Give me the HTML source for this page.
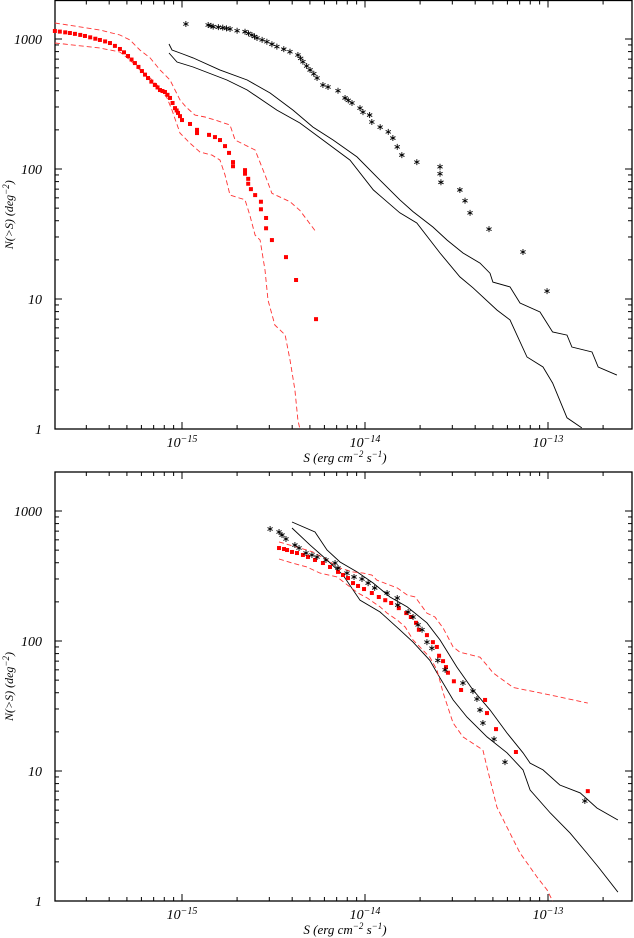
<!DOCTYPE html>
<html><head><meta charset="utf-8"><style>
html,body{margin:0;padding:0;background:#fff;}
svg{display:block;}
svg text{font-family:"Liberation Serif","DejaVu Serif",serif;font-style:italic;}
</style></head><body>
<svg id="chart" width="634" height="938" viewBox="0 0 634 938" xmlns="http://www.w3.org/2000/svg" font-family="Liberation Serif, serif" font-style="italic"></svg>
<script>
// ---- data (S in units of 1e-15 erg cm^-2 s^-1, N in deg^-2) ----
const xTickLabels = ["15","14","13"];
const yTickLabels = ["1","10","100","1000"];
// top panel
const topRedS = [0.202,0.215,0.230,0.244,0.260,0.278,0.295,0.315,0.336,0.356,0.380,0.404,0.430,0.458,0.482,0.507,0.530,0.553,0.578,0.604,0.628,0.652,0.680,0.711,0.735,0.758,0.782,0.807,0.833,0.860,0.888,0.916,0.935,0.951,0.975,1.0,1.106,1.208,1.208,1.405,1.514,1.613,1.718,1.807,1.900,1.900,2.21,2.21,2.30,2.30,2.38,2.51,2.70,2.70,2.88,2.88,3.10,3.70,4.20,5.40];
const topRedN = [1153,1140,1125,1112,1095,1075,1055,1030,1005,983,958,931,885,838,790,740,695,653,610,567,532,501,470,443,424,405,398,391,372,352,322,294,282,270,255,238,222,200,189,183,176,167,150,133,113,105,98,92,84,77,70,63,56,49,42,35,28.4,21,14,7.0];
const topRedUpS = [0.202,0.356,0.458,0.520,0.589,0.669,0.758,0.860,0.916,0.975,1.051,1.178,1.335,1.514,1.829,1.95,2.21,2.51,2.84,3.10,3.89,4.41,5.40];
const topRedUpN = [1328,1173,1074,983,823,715,578,484,405,340,300,260,251,238,218,167,153,140,90,65,56,48,32.8];
const topRedLoS = [0.202,0.356,0.458,0.520,0.589,0.669,0.758,0.828,0.882,0.975,1.106,1.254,1.459,1.613,1.718,1.829,2.21,2.35,2.51,2.67,2.84,2.95,3.22,3.66,3.89,4.14,4.30,4.41];
const topRedLoN = [931,853,794,689,578,501,420,352,284,189,158,135,128,117,90,63,58,44,31,28.4,16.7,9.8,6.3,5.3,3.4,2.0,1.17,1.0];
const topStarS = [1.05,1.39,1.44,1.48,1.58,1.67,1.75,1.83,2.00,2.21,2.31,2.41,2.49,2.57,2.74,2.91,3.10,3.30,3.60,3.89,4.30,4.45,4.58,4.80,5.01,5.25,5.47,5.89,6.28,7.12,7.78,8.10,8.49,9.39,9.75,10.6,10.9,12.1,13.4,14.2,15.0,15.9,19.2,25.7,25.7,26.0,33.0,35.2,37.5,47.6,73.0,98.8];
const topStarN = [1304,1282,1262,1244,1233,1222,1208,1194,1158,1138,1105,1074,1045,1018,985,953,912,873,835,798,753,710,668,620,578,540,501,443,427,400,352,337,322,294,274,260,230,210,193,173,148,128,113,104,92,79,69,57,46,34.5,23,11.5];
const topModelHiS = [0.849,0.882,1.01,1.15,1.61,2.27,3.03,4.04,5.20,6.69,9.04,11.6,15.5,18.3,23.5,28.1,34.3,42.5,48.2,50.0,62.0,70.3,90.4,106,127,135,174,188,238];
const topModelHiN = [916,823,767,715,578,484,384,284,210,167,124,87,58,47,35.8,28.4,22.6,18.9,15.8,13.5,12.4,9.31,7.94,5.57,5.28,4.27,3.91,3.00,2.60];
const topModelLoS = [0.849,0.939,1.15,1.76,2.27,3.30,4.41,5.89,8.28,11.1,15.5,19.2,25.7,33.0,38.9,52.6,62.0,76.8,93.9,106,127,153];
const topModelLoN = [780,665,609,484,405,284,226,167,117,69,46,38.4,22.6,14.8,12.2,8.23,6.9,3.58,3.0,2.26,1.22,1.02];
// bottom panel
const botStarS = [3.03,3.39,3.52,3.70,4.14,4.36,4.76,5.13,5.47,6.12,6.86,7.12,7.97,8.71,9.63,10.4,11.3,13.2,15.0,15.1,17.2,18.3,19.5,20.5,21.8,23.2,25.0,27.4,34.3,38.9,40.9,42.5,44.1,50.7,58.2,159];
const botStarN = [727,689,653,609,547,519,475,459,443,420,398,364,333,311,300,279,256,234,214,189,167,153,133,122,98,88,71,60,47.5,41.2,35.8,29.5,23.4,17.6,11.7,5.88];
const botRedS = [3.39,3.61,3.75,3.99,4.25,4.58,4.88,5.33,5.89,6.44,7.12,7.58,8.07,8.60,9.16,9.88,10.9,11.9,12.9,13.9,15.3,16.8,17.8,19.0,19.7,21.8,23.5,24.7,25.4,26.7,27.7,28.4,30.6,33.5,45.3,46.4,52.0,66.8,165];
const botRedN = [519,510,501,484,475,459,443,420,398,371,340,322,305,279,265,251,234,218,206,196,179,164,153,138,122,111,98,90,77,70,63,57,49,42,35.2,27.9,21.0,14.0,7.0];
const botRedUpS = [3.39,4.41,5.20,6.20,7.30,8.60,9.75,10.9,11.6,15.0,17.0,18.8,21.8,24.1,26.7,30.3,33.0,42.5,46.4,50.0,64.4,103,165];
const botRedUpN = [578,519,484,420,364,340,333,322,294,256,226,218,164,153,126,90,82,75,65,57,44,38.4,33.3];
const botRedLoS = [3.39,3.99,4.82,5.68,7.03,7.78,9.16,10.3,12.1,13.2,15.0,16.6,18.3,22.6,24.7,26.7,30.3,34.3,44.1,46.4,52.6,70.3,87.1,98.8,106];
const botRedLoN = [427,398,371,333,311,279,234,214,183,164,145,128,102,75,60,40,23.4,18.3,14.5,10.7,5.28,2.34,1.53,1.22,1.0];
const botModelHiS = [3.99,5.33,6.20,7.30,9.04,11.1,13.7,17.0,21.8,25.7,31.8,38.9,48.2,59.7,73.0,79.8,93.9,116,150,185,241];
const botModelHiN = [823,689,501,405,340,279,218,183,138,102,63,42,29.5,19.6,13.8,11.5,10.2,7.8,6.78,5.19,4.2];
const botModelLoS = [3.99,5.01,6.20,7.58,9.39,12.1,15.5,18.3,22.6,24.7,30.3,36.1,46.4,59.7,73.0,79.8,103,132,163,188,241];
const botModelLoN = [740,547,420,322,206,167,122,98,71,57,35.2,26.0,18.3,13.8,10.2,7.14,4.75,3.33,2.34,1.83,1.17];

const NS = "http://www.w3.org/2000/svg";
const svg = document.getElementById('chart');
const X0 = 55, X1 = 632, XREF = 182, DEC_X = 183, DEC_Y = 130;
const FONT = '"Liberation Serif", "DejaVu Serif", serif';
function mk(tag, attrs, parent){ const e=document.createElementNS(NS,tag); for(const k in attrs) e.setAttribute(k,attrs[k]); (parent||svg).appendChild(e); return e; }
function panel(top, bottom, name){
  const g = mk('g',{});
  
  
  const xs = s => XREF + DEC_X*Math.log10(s);
  const ys = n => bottom - DEC_Y*Math.log10(n);
  const fr = mk('rect',{x:X0,y:top,width:X1-X0,height:bottom-top,fill:'none',stroke:'#000','stroke-width':1.3},g);
  
  
  const tg = mk('g',{stroke:'#000','stroke-width':1},g);
  for(let d=-1; d<=2; d++){
    for(let m=1;m<=9;m++){
      const v = m*Math.pow(10,d); const x = xs(v);
      if(x<=X0+1||x>=X1-1) continue;
      const L = m===1?7:4;
      mk('line',{x1:x,y1:bottom,x2:x,y2:bottom-L},tg);
      mk('line',{x1:x,y1:top,x2:x,y2:top+L},tg);
    }
  }
  for(let d=0; d<=3; d++){
    for(let m=1;m<=9;m++){
      const v=m*Math.pow(10,d); const y=ys(v);
      if(y<top+1) continue;
      const L = m===1?7:4;
      if(y<bottom-0.5){
        mk('line',{x1:X0,y1:y,x2:X0+L,y2:y},tg);
        mk('line',{x1:X1,y1:y,x2:X1-L,y2:y},tg);
      }
    }
  }
  xTickLabels.forEach((p,i)=>{
    const t = mk('text',{x:xs(Math.pow(10,i)),y:bottom+18,'text-anchor':'middle','font-size':14,'font-family':FONT,'font-style':'italic'},g);
    
    
    t.textContent='10';
    const sp = mk('tspan',{dy:-5,'font-size':10},t); sp.textContent='\u2212'+p;
  });
  yTickLabels.forEach((l,i)=>{
    const t = mk('text',{x:42,y:ys(Math.pow(10,i))+5,'text-anchor':'end','font-size':14,'font-family':FONT,'font-style':'italic'},g);
    
    
    t.textContent=l;
  });
  const xt = mk('text',{x:345,y:bottom+33,'text-anchor':'middle','font-size':13,'font-family':FONT,'font-style':'italic'},g);
  
  
  xt.innerHTML = 'S (erg cm<tspan dy="-5" font-size="9">\u22122</tspan><tspan dy="5"> s</tspan><tspan dy="-5" font-size="9">\u22121</tspan><tspan dy="5">)</tspan>';
  const yt = mk('text',{x:0,y:0,'text-anchor':'middle','font-size':12,'font-family':FONT,'font-style':'italic',transform:`translate(13,${(top+bottom)/2}) rotate(-90)`},g);
  
  
  yt.innerHTML = 'N(&gt;S) (deg<tspan dy="-4" font-size="9">\u22122</tspan><tspan dy="4">)</tspan>';
  return {g, xs, ys, top, bottom};
}
function line(P, S, N, color, dash, name, w){
  const d = S.map((s,i)=>(i?'L':'M')+P.xs(s).toFixed(1)+','+Math.min(P.ys(N[i]),P.bottom).toFixed(1)).join('');
  const p = mk('path',{d, fill:'none', stroke:color, 'stroke-width':w||0.9, 'stroke-dasharray':dash||'none'},P.g);
  
  
}
function squares(P, S, N, name){
  const g = mk('g',{fill:'#f00'},P.g);
  
  
  S.forEach((s,i)=>{ const r = mk('rect',{x:P.xs(s)-2,y:P.ys(N[i])-2,width:4,height:4},g);
    
     });
}
function stars(P, S, N, name){
  const g = mk('g',{stroke:'#000','stroke-width':0.9},P.g);
  
  
  S.forEach((s,i)=>{ const x=P.xs(s), y=P.ys(N[i]), r=3;
    const d=`M${x},${y-r}L${x},${y+r}M${x-2.6},${y-1.5}L${x+2.6},${y+1.5}M${x-2.6},${y+1.5}L${x+2.6},${y-1.5}`;
    const p = mk('path',{d},g);
    
     });
}
const T = panel(0.5, 429, 'top-panel');
line(T, topModelHiS, topModelHiN, '#000', null, 'model-upper-line');
line(T, topModelLoS, topModelLoN, '#000', null, 'model-lower-line');
line(T, topRedUpS, topRedUpN, '#f33', '5,3', 'red-upper-dashed');
line(T, topRedLoS, topRedLoN, '#f33', '5,3', 'red-lower-dashed');
squares(T, topRedS, topRedN, 'red-squares-series');
stars(T, topStarS, topStarN, 'asterisk-series');
const B = panel(472, 901, 'bottom-panel');
line(B, botModelHiS, botModelHiN, '#000', null, 'model-upper-line');
line(B, botModelLoS, botModelLoN, '#000', null, 'model-lower-line');
line(B, botRedUpS, botRedUpN, '#f33', '5,3', 'red-upper-dashed');
line(B, botRedLoS, botRedLoN, '#f33', '5,3', 'red-lower-dashed');
squares(B, botRedS, botRedN, 'red-squares-series');
stars(B, botStarS, botStarN, 'asterisk-series');
</script>
</body></html>
